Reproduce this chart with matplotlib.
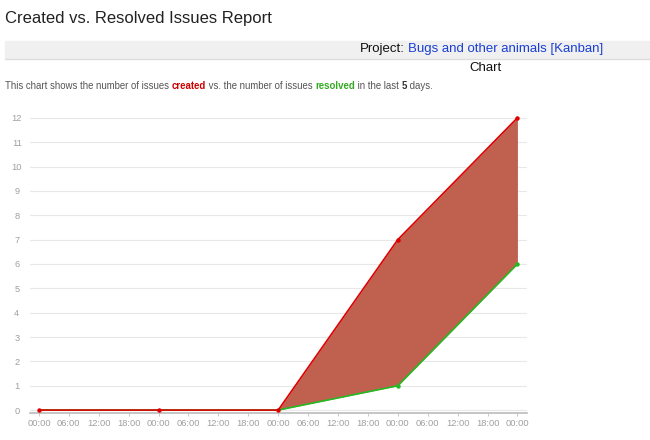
import matplotlib
matplotlib.use("Agg")
import matplotlib.pyplot as plt
import numpy as np

days = [0, 1, 2, 3, 4]
created = [0, 0, 0, 7, 12]
resolved = [0, 0, 0, 1, 6]
tick_positions = [i * 0.25 for i in range(17)]
tick_labels = ["00:00", "06:00", "12:00", "18:00"] * 4 + ["00:00"]
y_ticks = list(range(0, 13))

plt.rcParams['font.family'] = ['Liberation Sans', 'DejaVu Sans']

W, H = 650, 440
fig = plt.figure(figsize=(W / 100, H / 100), dpi=100)

def px(x, y):
    return x / W, 1 - y / H

# Title
fig.text(*px(5, 18), "Created vs. Resolved Issues Report", fontsize=12, va="center", ha="left", color="#222222")

# Gray band
band = plt.Rectangle(px(5, 58), (650 - 5) / W, 17 / H, transform=fig.transFigure, color="#f0f0f0", zorder=0)
fig.add_artist(band)
fig.add_artist(plt.Line2D([5 / W, 1], [1 - 59 / H, 1 - 59 / H], transform=fig.transFigure, color="#dddddd", lw=1))

fig.canvas.draw()
renderer = fig.canvas.get_renderer()

def text_width(s, **kw):
    a = fig.text(0, 0, "x" + s + "x", **kw)
    b = fig.text(0, 0, "xx", **kw)
    fig.canvas.draw()
    w = a.get_window_extent(renderer).width - b.get_window_extent(renderer).width
    a.remove(); b.remove()
    return w

# Right-aligned project line
t2 = fig.text(*px(603, 49), "Bugs and other animals [Kanban]", fontsize=9.5, va="center", ha="right", color="#1a3fd6")
fig.canvas.draw()
bb = t2.get_window_extent(renderer)
fig.text(bb.x0 / W - 3 / W, 1 - 49 / H, "Project:", fontsize=9.5, va="center", ha="right", color="#111111")

fig.text(*px(486, 68), "Chart", fontsize=9.5, va="center", ha="center", color="#111111")

# Description line with colored pieces
pieces = [
    ("This chart shows the number of issues ", "#555555", "normal"),
    ("created", "#cc0000", "bold"),
    (" vs. the number of issues ", "#555555", "normal"),
    ("resolved", "#33aa22", "bold"),
    (" in the last ", "#555555", "normal"),
    ("5", "#333333", "bold"),
    (" days.", "#555555", "normal"),
]
xcur = 5
for s, c, w in pieces:
    fig.text(xcur / W, 1 - 86 / H, s, fontsize=6.9, va="center", ha="left", color=c, fontweight=w)
    xcur += text_width(s, fontsize=6.9, fontweight=w)

# Axes
left, right, top, bottom = 30, 527, 111, 413
ax = fig.add_axes([left / W, 1 - bottom / H, (right - left) / W, (bottom - top) / H])
ax.set_xlim(-0.075, 4.08)
ax.set_ylim(-0.12, 12.28)

ax.fill_between(days, resolved, created, color="#c0604f", lw=0, zorder=2)
ax.plot(days, resolved, color="#22bb22", lw=1.2, zorder=3)
ax.plot(days[3:], resolved[3:], 'o', color="#22bb22", ms=2.2, zorder=4)
ax.plot(days, created, color="#dd0000", lw=1.2, zorder=5)
ax.plot(days, created, 'o', color="#dd0000", ms=2.2, zorder=6)

ax.set_yticks(y_ticks)
ax.set_xticks(tick_positions)
ax.set_xticklabels(tick_labels)
ax.grid(axis="y", color="#e8e8e8", lw=0.8)
ax.set_axisbelow(True)
for s in ["top", "right", "left"]:
    ax.spines[s].set_visible(False)
ax.spines["bottom"].set_color("#bbbbbb")
ax.spines["bottom"].set_linewidth(1.2)
ax.tick_params(axis="both", labelsize=6.7, labelcolor="#a0a0a0")
ax.tick_params(axis="y", length=0, pad=9.5)
ax.tick_params(axis="x", length=2.5, color="#cccccc", width=0.8, pad=2)
for lbl in ax.get_yticklabels():
    lbl.set_horizontalalignment("center")

fig.savefig("out.png", dpi=100)
